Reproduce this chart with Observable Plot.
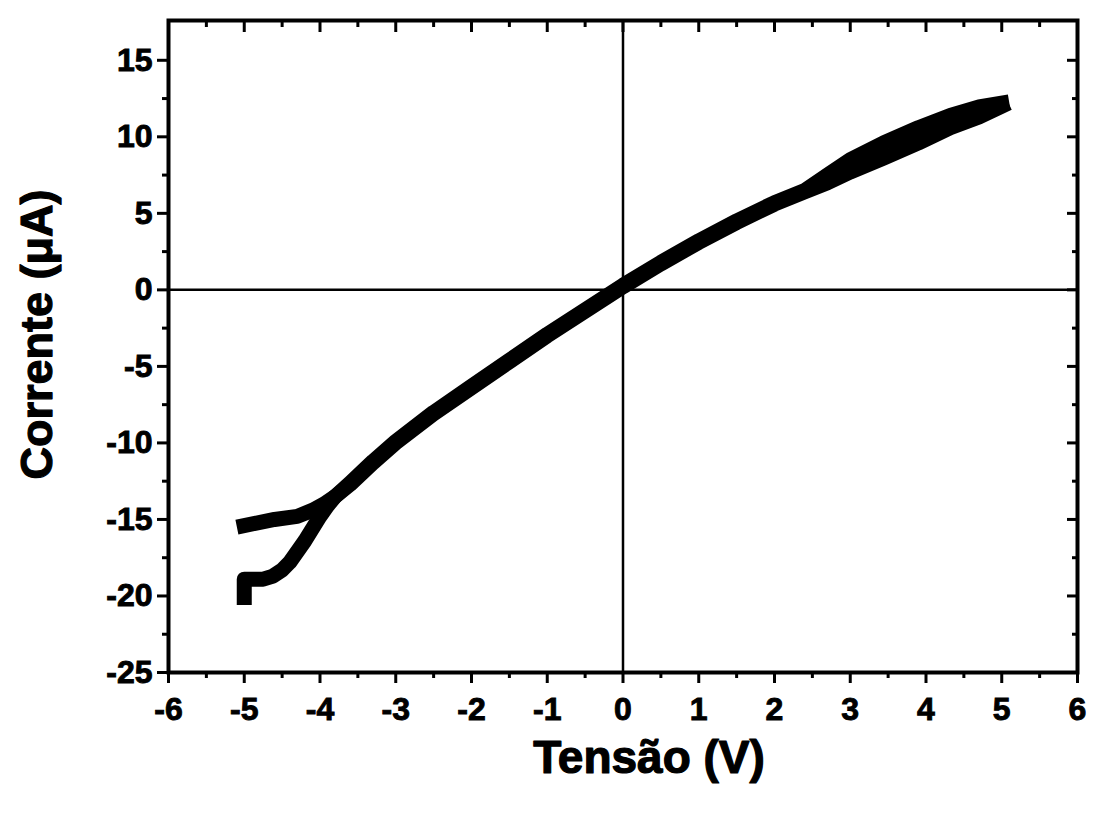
<!DOCTYPE html>
<html><head><meta charset="utf-8">
<script src="https://cdn.jsdelivr.net/npm/d3@7"></script>
<script src="https://cdn.jsdelivr.net/npm/@observablehq/plot@0.6"></script>
<style>
body{margin:0;background:#fff}
#chart svg{display:block;font-family:"Liberation Sans",Arial,sans-serif}
#chart svg g[aria-label$="tick label"] text{font-size:32px;font-weight:bold;fill:#000;stroke:#000;stroke-width:0.9px}
</style>
</head><body><div id="chart"></div>
<script>
// Sweep 1 (from -5 V up to +5 V)
const sweepUpV = [-5, -5, -4.75, -4.62, -4.5, -4.4, -4.3, -4.2, -4.1, -4.0, -3.9, -3.8, -3.6, -3.3, -3.0, -2.5, -2.0, -1.5, -1.0, -0.5, 0, 0.5, 1.0, 1.5, 2.0, 2.4, 2.7, 3.0, 3.44, 3.9, 4.32, 4.7, 5.0];
const sweepUpI = [-20.1, -18.9, -18.9, -18.7, -18.3, -17.8, -17.1, -16.4, -15.6, -14.8, -14.1, -13.5, -12.6, -11.2, -9.9, -8.0, -6.3, -4.6, -2.9, -1.3, 0.3, 1.8, 3.2, 4.5, 5.7, 6.5, 7.5, 8.5, 9.6, 10.6, 11.4, 11.95, 12.2];
// Sweep 2 (from +5 V back down to -5 V)
const sweepDownV = [5.0, 4.7, 4.32, 3.9, 3.44, 3.0, 2.7, 2.4, 2.0, 1.5, 1.0, 0.5, 0, -0.5, -1.0, -1.5, -2.0, -2.5, -3.0, -3.3, -3.6, -3.8, -3.95, -4.1, -4.3, -4.6, -5.0];
const sweepDownI = [12.0, 11.3, 10.6, 9.6, 8.6, 7.7, 7.0, 6.4, 5.6, 4.4, 3.1, 1.7, 0.2, -1.4, -3.0, -4.7, -6.4, -8.1, -10.0, -11.3, -12.7, -13.5, -14.0, -14.4, -14.8, -15.0, -15.4];

const xMajorTicks = [-6, -5, -4, -3, -2, -1, 0, 1, 2, 3, 4, 5, 6];
const xMinorTicks = [-5.5, -4.5, -3.5, -2.5, -1.5, -0.5, 0.5, 1.5, 2.5, 3.5, 4.5, 5.5];
const yMajorTicks = [-25, -20, -15, -10, -5, 0, 5, 10, 15];
const yMinorTicks = [-22.5, -17.5, -12.5, -7.5, -2.5, 2.5, 7.5, 12.5];
const xDomain = [-6, 6];
const yDomain = [-25, 17.6];
const xTitle = "Tensão (V)";
const yTitle = "Corrente (μA)";

const up = sweepUpV.map((v, i) => ({V: v, I: sweepUpI[i]}));
const down = sweepDownV.map((v, i) => ({V: v, I: sweepDownI[i]}));

const fmt = d => String(d);
const blank = () => "";
const lineStyle = {x: "V", y: "I", stroke: "#000", strokeWidth: 15, strokeLinecap: "square", strokeLinejoin: "round"};
const titleStyle = {text: d => d, textAnchor: "middle", fontWeight: "bold", fill: "#000", stroke: "#000", strokeWidth: 1.2};

const chart = Plot.plot({
  width: 1097,
  height: 816,
  marginLeft: 168,
  marginRight: 20,
  marginTop: 20,
  marginBottom: 144,
  x: {domain: xDomain},
  y: {domain: yDomain},
  style: {background: "#fff", color: "#000"},
  marks: [
    Plot.ruleX([0], {stroke: "#000", strokeWidth: 2.5}),
    Plot.ruleY([0], {stroke: "#000", strokeWidth: 2.5}),
    Plot.line(up, lineStyle),
    Plot.line(down, lineStyle),
    Plot.frame({stroke: "#000", strokeWidth: 4}),
    // bottom axis
    Plot.axisX(xMajorTicks, {anchor: "bottom", tickSize: 11, tickPadding: 14, strokeWidth: 3, tickFormat: fmt, label: null}),
    Plot.axisX(xMinorTicks, {anchor: "bottom", tickSize: 6, strokeWidth: 3, tickFormat: blank, label: null}),
    // top axis (ticks inward)
    Plot.axisX(xMajorTicks, {anchor: "top", tickSize: -11, strokeWidth: 3, tickFormat: blank, label: null}),
    Plot.axisX(xMinorTicks, {anchor: "top", tickSize: -6, strokeWidth: 3, tickFormat: blank, label: null}),
    // left axis
    Plot.axisY(yMajorTicks, {anchor: "left", tickSize: 11, tickPadding: 5, strokeWidth: 3, tickFormat: fmt, label: null}),
    Plot.axisY(yMinorTicks, {anchor: "left", tickSize: 6, strokeWidth: 3, tickFormat: blank, label: null}),
    // right axis (ticks inward)
    Plot.axisY(yMajorTicks, {anchor: "right", tickSize: -11, strokeWidth: 3, tickFormat: blank, label: null}),
    Plot.axisY(yMinorTicks, {anchor: "right", tickSize: -6, strokeWidth: 3, tickFormat: blank, label: null}),
    // titles
    Plot.text([xTitle], {...titleStyle, frameAnchor: "bottom", dy: 100, dx: 26, fontSize: 46}),
    Plot.text([yTitle], {...titleStyle, frameAnchor: "left", rotate: -90, dx: -131, dy: -12, fontSize: 45})
  ]
});
document.getElementById("chart").appendChild(chart);
</script>
</body></html>
